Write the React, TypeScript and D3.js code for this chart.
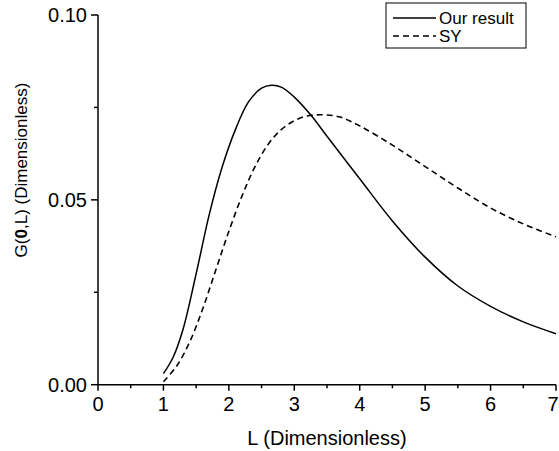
import React from "react";
import * as d3 from "d3";

const solidL = [1.0, 1.15, 1.3, 1.5, 1.7, 1.9, 2.1, 2.3, 2.5, 2.65, 2.8, 3.0, 3.25, 3.5, 4.0, 4.5, 5.0, 5.5, 6.0, 6.5, 7.0];
const solidG = [0.003, 0.0075, 0.015, 0.030, 0.046, 0.059, 0.069, 0.0765, 0.0802, 0.081, 0.0805, 0.0778, 0.073, 0.0672, 0.0557, 0.0443, 0.0345, 0.0267, 0.0212, 0.017, 0.0138];

const dashL = [1.0, 1.2, 1.4, 1.6, 1.8, 2.0, 2.2, 2.4, 2.6, 2.8, 3.0, 3.2, 3.45, 3.7, 4.0, 4.5, 5.0, 5.5, 6.0, 6.5, 7.0];
const dashG = [0.0008, 0.005, 0.0115, 0.0205, 0.031, 0.0415, 0.051, 0.059, 0.065, 0.069, 0.0714, 0.0727, 0.073, 0.0724, 0.07, 0.0648, 0.059, 0.0532, 0.0478, 0.0435, 0.04];

const xTicks = [0, 1, 2, 3, 4, 5, 6, 7];
const xMinor = [0.5, 1.5, 2.5, 3.5, 4.5, 5.5, 6.5];
const yTicks = [0, 0.05, 0.1];
const yMinor = [0.025, 0.075];
const seriesNames = ["Our result", "SY"];

const W = 559, H = 451;
const x = d3.scaleLinear().domain([0, 7]).range([98, 556]);
const y = d3.scaleLinear().domain([0, 0.1]).range([384.7, 15]);

export default function App() {
  const line = d3.line<[number, number]>().x(d => x(d[0])).y(d => y(d[1])).curve(d3.curveCatmullRom.alpha(0.5));
  const solidPts = solidL.map((l, i) => [l, solidG[i]] as [number, number]);
  const dashPts = dashL.map((l, i) => [l, dashG[i]] as [number, number]);
  const font = "'Liberation Sans', Arial, sans-serif";
  return (
    <svg width={W} height={H} style={{ position: "absolute", left: 0, top: 0 }} fontFamily={font}>
      <rect width={W} height={H} fill="#fff" />
      <path d={line(solidPts) || ""} fill="none" stroke="#000" strokeWidth={1.5} />
      <path d={line(dashPts) || ""} fill="none" stroke="#000" strokeWidth={1.6} strokeDasharray="6,4" />
      <line x1={x(0)} x2={x(7)} y1={y(0)} y2={y(0)} stroke="#000" strokeWidth={1.5} />
      <line x1={x(0)} x2={x(0)} y1={y(0)} y2={y(0.1)} stroke="#000" strokeWidth={1.5} />
      {xTicks.map(t => (
        <g key={"xt" + t}>
          <line x1={x(t)} x2={x(t)} y1={y(0)} y2={y(0) + 6} stroke="#000" strokeWidth={1.5} />
          <text x={Math.min(x(t), W - 6)} y={411} fontSize={20} textAnchor="middle">{t}</text>
        </g>
      ))}
      {xMinor.map(t => (
        <line key={"xm" + t} x1={x(t)} x2={x(t)} y1={y(0)} y2={y(0) + 3.5} stroke="#000" strokeWidth={1.5} />
      ))}
      {yTicks.map(t => (
        <g key={"yt" + t}>
          <line x1={x(0) - 7} x2={x(0)} y1={y(t)} y2={y(t)} stroke="#000" strokeWidth={1.5} />
          <text x={87} y={y(t) + 7} fontSize={20} textAnchor="end">{d3.format(".2f")(t)}</text>
        </g>
      ))}
      {yMinor.map(t => (
        <line key={"ym" + t} x1={x(0) - 4} x2={x(0)} y1={y(t)} y2={y(t)} stroke="#000" strokeWidth={1.5} />
      ))}
      <text x={327} y={445} fontSize={20} textAnchor="middle">L (Dimensionless)</text>
      <text transform="translate(27,170) rotate(-90)" fontSize={17} textAnchor="middle">
        G(<tspan fontWeight="bold">0</tspan>,L) (Dimensionless)
      </text>
      <rect x={386} y={3} width={140} height={45} fill="#fff" stroke="#000" strokeWidth={1} />
      <line x1={393} x2={436} y1={18} y2={18} stroke="#000" strokeWidth={1.5} />
      <text x={439} y={24} fontSize={17}>{seriesNames[0]}</text>
      <line x1={393} x2={436} y1={36} y2={36} stroke="#000" strokeWidth={1.5} strokeDasharray="6,4" />
      <text x={439} y={42} fontSize={17}>{seriesNames[1]}</text>
    </svg>
  );
}
